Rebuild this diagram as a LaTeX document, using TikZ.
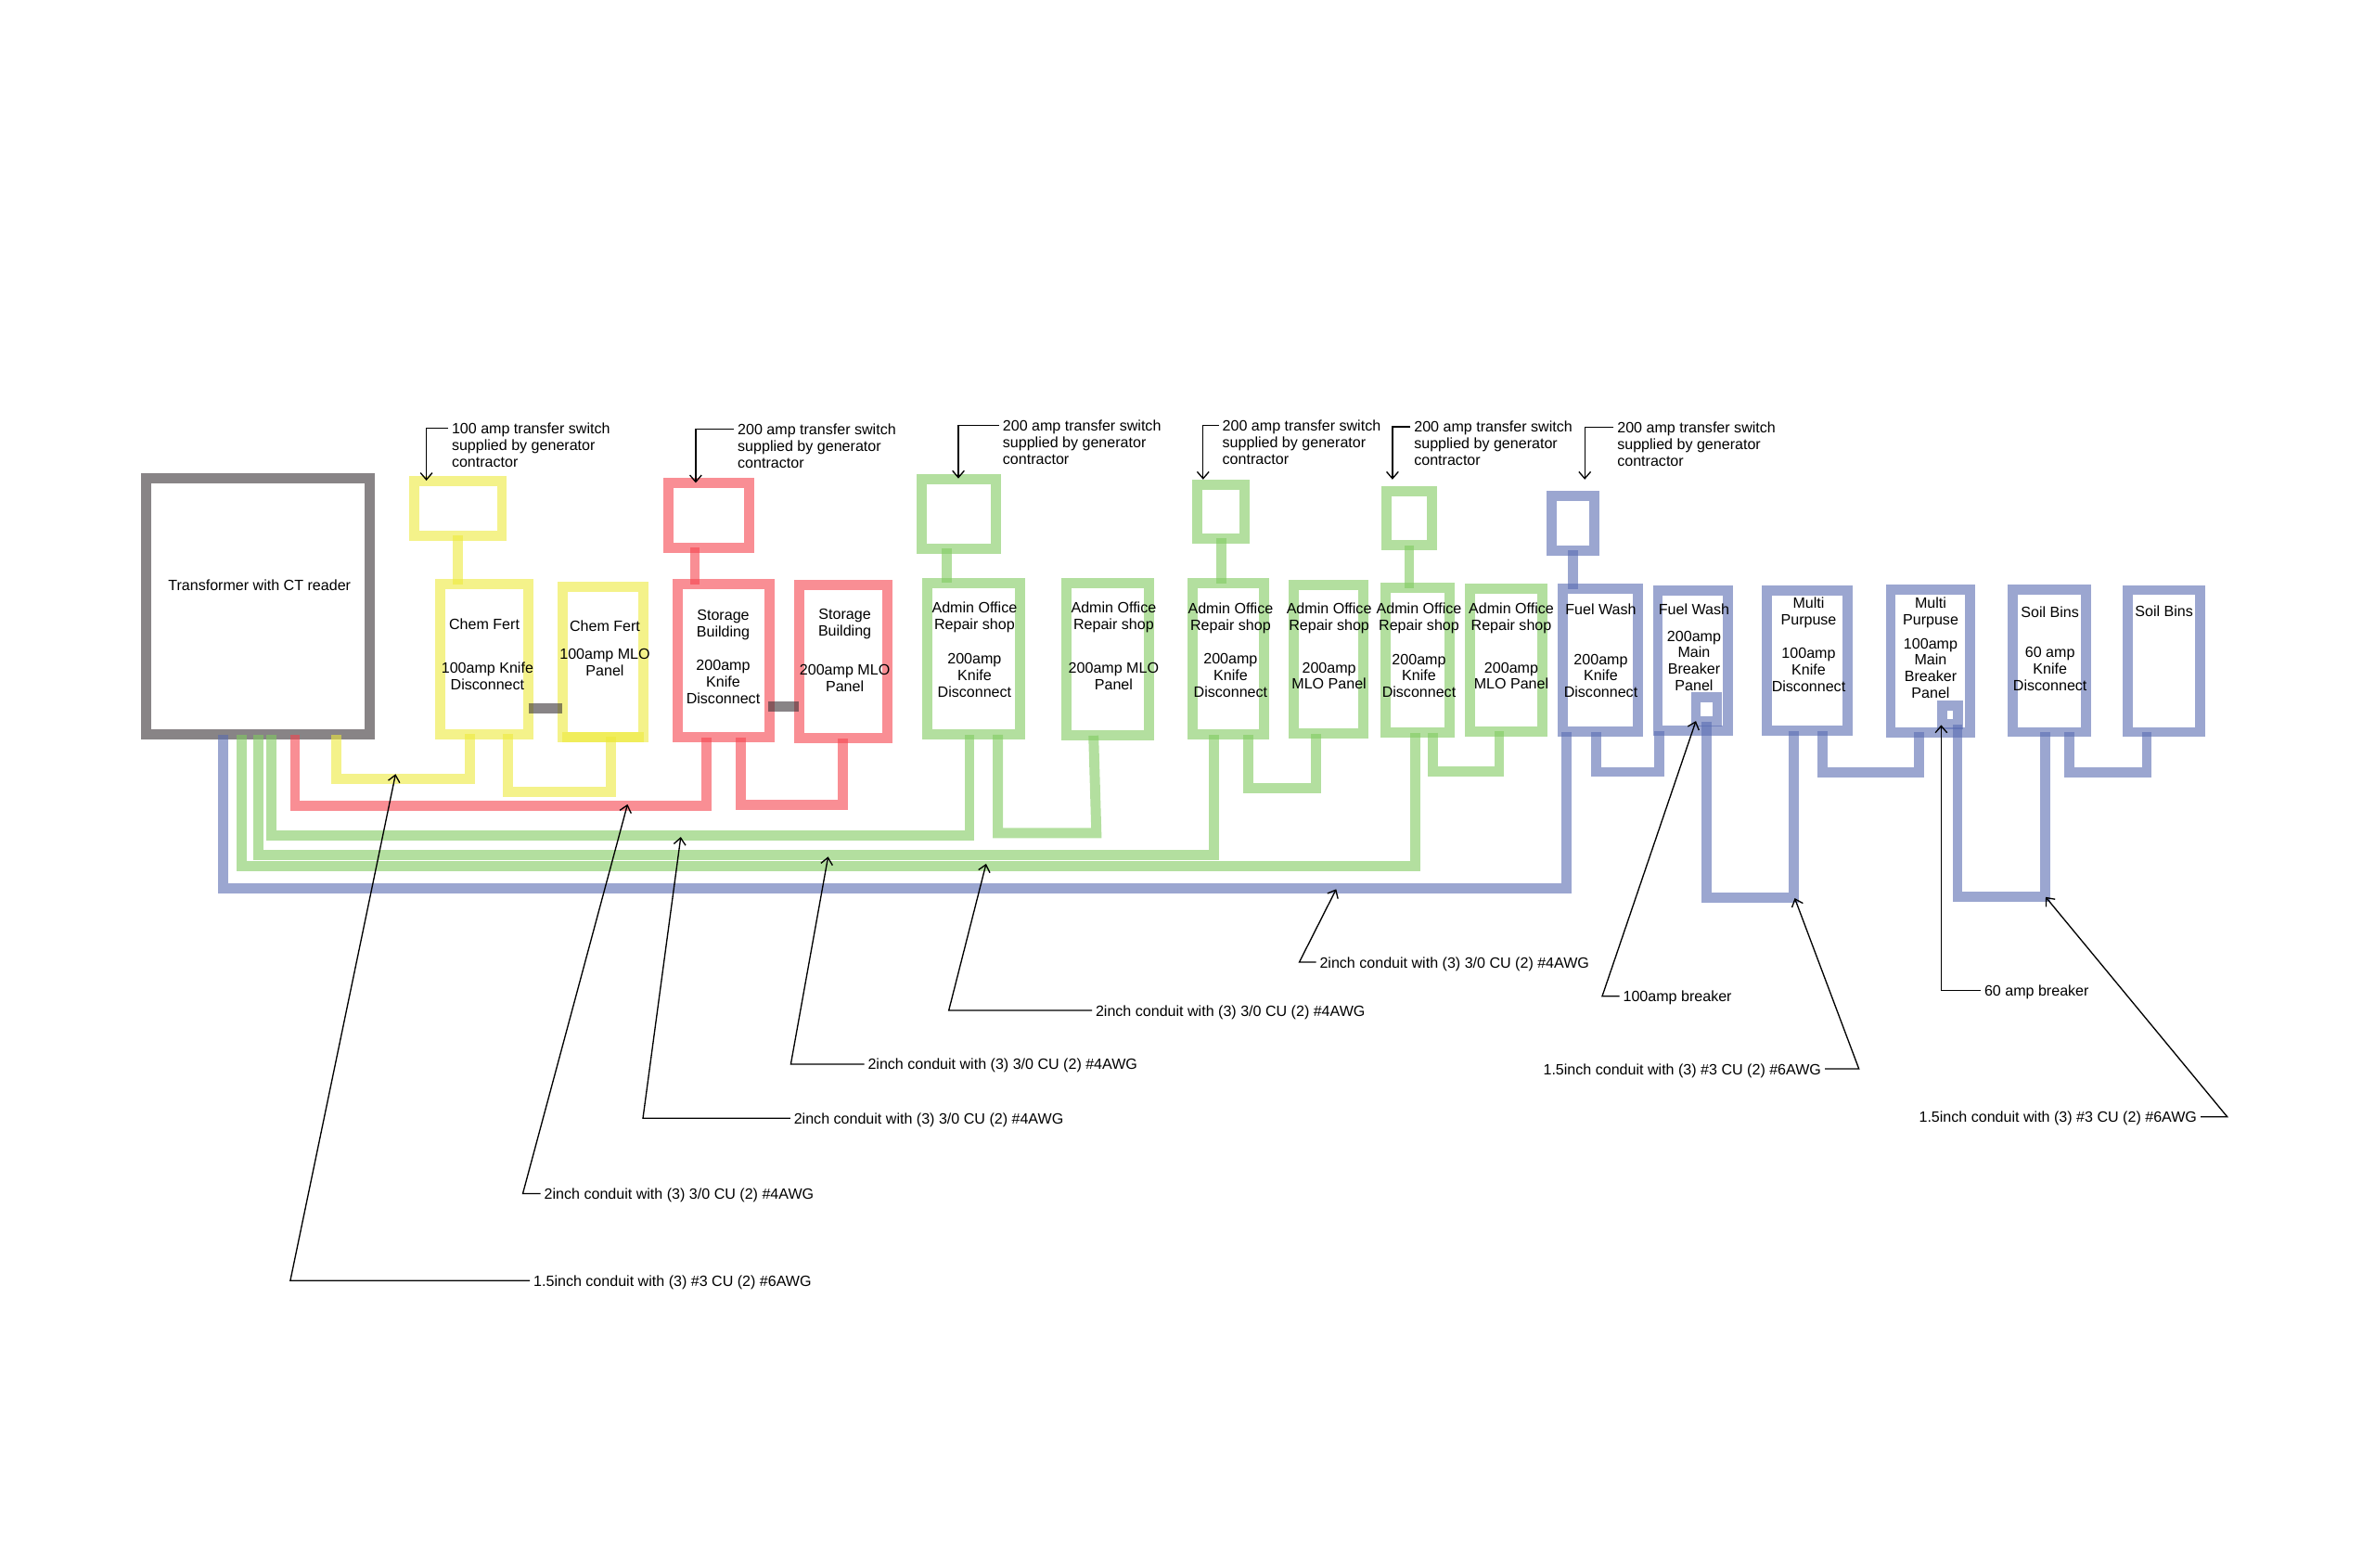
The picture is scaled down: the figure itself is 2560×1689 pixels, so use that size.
\documentclass[tikz,border=0pt]{standalone}
\usepackage{fontspec}
\setmainfont{Liberation Sans}
\usetikzlibrary{arrows.meta}

\definecolor{wireY}{RGB}{237,233,60}
\definecolor{wireR}{RGB}{245,67,77}
\definecolor{wireG}{RGB}{128,202,95}
\definecolor{wireB}{RGB}{88,107,177}
\definecolor{wireK}{RGB}{57,50,53}

\tikzset{
	panel/.style={line width=8.2pt,outer sep=0pt,inner sep=0pt,draw opacity=.6},
	boxdim/.style 2 args={minimum width=#1*0.75pt,minimum height=#2*0.75pt},
	pY/.style={panel,draw=wireY}, pR/.style={panel,draw=wireR},
	pG/.style={panel,draw=wireG}, pB/.style={panel,draw=wireB}, pK/.style={panel,draw=wireK},
	cond/.style={line width=8.2pt,draw opacity=.6},
	cY/.style={cond,draw=wireY}, cR/.style={cond,draw=wireR},
	cG/.style={cond,draw=wireG}, cB/.style={cond,draw=wireB}, cK/.style={cond,draw=wireK},
	lbl/.style={font=\fontsize{12.05}{13.4}\selectfont,align=center,inner sep=0pt},
	note/.style={font=\fontsize{12.05}{13.4}\selectfont,align=left,anchor=west,inner sep=0pt,outer sep=3pt},
	wirenote/.style={note,text height=9pt,text depth=0pt},
	leader/.style={line width=1pt,-{Straight Barb[length=5.5pt,width=9.5pt]}}
}

\begin{document}
\begin{tikzpicture}[x=0.75pt,y=0.75pt,yscale=-1,xscale=1]
	\useasboundingbox (0,0) rectangle (2560,1689);

	%Panels: transformer and transfer switches
	\node[pK,boxdim={240.8}{276}] (xfmr) at (278.2,653.75) {};
	\node[pY,boxdim={94.4}{58.9}] (tsChem) at (493.8,547.7) {};
	\node[pR,boxdim={87.3}{69.3}] (tsStore) at (763.7,555.4) {};
	\node[pG,boxdim={80.1}{75}] (tsAdminA) at (1033.1,553.55) {};
	\node[pG,boxdim={51.5}{57.9}] (tsAdminB) at (1316.2,551.4) {};
	\node[pG,boxdim={49}{58.3}] (tsAdminC) at (1519,558.4) {};
	\node[pB,boxdim={46}{58.6}] (tsFuel) at (1695.6,564) {};

	%Panels: disconnects and load centers
	\node[pY,boxdim={95}{161.5}] (kdChem) at (522.1,710.7) {};
	\node[pY,boxdim={87.3}{162.1}] (mloChem) at (649.9,713.2) {};
	\node[pR,boxdim={99}{165}] (kdStore) at (780.3,712.15) {};
	\node[pR,boxdim={94.9}{165.3}] (mloStore) at (908.8,713) {};
	\node[pG,boxdim={100}{163.5}] (kdAdminA) at (1049.2,710) {};
	\node[pG,boxdim={88.8}{164.6}] (mloAdminA) at (1194,710.55) {};
	\node[pG,boxdim={77.1}{162.8}] (kdAdminB) at (1324.4,710.35) {};
	\node[pG,boxdim={74.5}{160.3}] (mloAdminB) at (1431.8,710.5) {};
	\node[pG,boxdim={69.4}{156.1}] (kdAdminC) at (1528.2,711.6) {};
	\node[pG,boxdim={78.1}{153.6}] (mloAdminC) at (1623.4,711.45) {};
	\node[pB,boxdim={81.3}{154.3}] (kdFuel) at (1725,711.8) {};
	\node[pB,boxdim={75.6}{151.5}] (mbFuel) at (1824.8,712.1) {};
	\node[pB,boxdim={23}{26}] (brFuel) at (1839.5,764.5) {};
	\node[pB,boxdim={86.2}{151.8}] (kdMulti) at (1948,712) {};
	\node[pB,boxdim={85.2}{153.9}] (mbMulti) at (2080.6,712.3) {};
	\node[pB,boxdim={17.5}{20.4}] (brMulti) at (2101.8,770.5) {};
	\node[pB,boxdim={79}{153.6}] (kdSoil) at (2209.2,712.2) {};
	\node[pB,boxdim={78.5}{153}] (mloSoil) at (2332.4,712.5) {};

	%Straight Lines: switch to disconnect
	\draw[cY] (tsChem.south) -- (tsChem.south |- kdChem.north);
	\draw[cR] (749,0 |- tsStore.south) -- (749,0 |- kdStore.north);
	\draw[cG] (1020.6,0 |- tsAdminA.south) -- (1020.6,0 |- kdAdminA.north);
	\draw[cG] (tsAdminB.south) -- (tsAdminB.south |- kdAdminB.north);
	\draw[cG] (tsAdminC.south) -- (tsAdminC.south |- kdAdminC.north);
	\draw[cB] (tsFuel.south) -- (tsFuel.south |- kdFuel.north);

	%Straight Lines: gray nipples
	\draw[cK] (kdChem.east |- 0,763.6) -- (mloChem.west |- 0,763.6);
	\draw[cK] (828,761.8) -- (mloStore.west |- 0,761.8);
	\draw[cY] (606,0 |- mloChem.south) -- (694,0 |- mloChem.south);

	%Straight Lines: feeders from transformer
	\draw[cY] (362.2,0 |- xfmr.south) -- (362.2,839.8) -- (506.3,839.8) -- (506.3,0 |- kdChem.south);
	\draw[cR] (318,0 |- xfmr.south) -- (318,868.5) -- (761.9,868.5) -- (761.9,0 |- kdStore.south);
	\draw[cG] (292.3,0 |- xfmr.south) -- (292.3,900.5) -- (1045,900.5) -- (1045,0 |- kdAdminA.south);
	\draw[cG] (278.2,0 |- xfmr.south) -- (278.2,921.2) -- (1308.3,921.2) -- (1308.3,0 |- kdAdminB.south);
	\draw[cG] (260.8,0 |- xfmr.south) -- (260.8,933.5) -- (1525.2,933.5) -- (1525.2,0 |- kdAdminC.south);
	\draw[cB] (240.2,0 |- xfmr.south) -- (240.2,957.8) -- (1688.4,957.8) -- (1688.4,0 |- kdFuel.south);

	%Straight Lines: disconnect to panel
	\draw[cY] (547.6,0 |- kdChem.south) -- (547.6,853.2) -- (658.3,853.2) -- (658.3,0 |- mloChem.south);
	\draw[cR] (798.6,0 |- kdStore.south) -- (798.6,867.1) -- (908.3,867.1) -- (908.3,0 |- mloStore.south);
	\draw[cG] (1075.7,0 |- kdAdminA.south) -- (1075.7,897.9) -- (1181.8,897.9) -- (1178.7,0 |- mloAdminA.south);
	\draw[cG] (1345.6,0 |- kdAdminB.south) -- (1345.6,849.6) -- (1418.5,849.6) -- (1418.5,0 |- mloAdminB.south);
	\draw[cG] (1544.5,0 |- kdAdminC.south) -- (1544.5,831.4) -- (1616,831.4) -- (1616,0 |- mloAdminC.south);
	\draw[cB] (1720.2,0 |- kdFuel.south) -- (1720.2,832) -- (1788.5,832) -- (1788.5,0 |- mbFuel.south);
	\draw[cB] (1964.5,0 |- kdMulti.south) -- (1964.5,832.9) -- (2068.9,832.9) -- (2068.9,0 |- mbMulti.south);
	\draw[cB] (2230.4,0 |- kdSoil.south) -- (2230.4,832.7) -- (2314,832.7) -- (2314,0 |- mloSoil.south);

	%Straight Lines: breaker to next disconnect
	\draw[cB] (brFuel.south) -- (1839.5,967.5) -- (1933.4,967.5) -- (1933.4,0 |- kdMulti.south);
	\draw[cB] (2110,0 |- brMulti.south) -- (2110,966.4) -- (2204.6,966.4) -- (2204.6,0 |- kdSoil.south);

	% Text Node
	\node[lbl] (tXfmr) at (279.7,631) {Transformer with CT reader};
	\node[lbl] (tKdChem) at (525.4,704.8) {Chem Fert\hspace*{5pt}\\[22pt]100amp Knife\\Disconnect};
	\node[lbl] (tMloChem) at (652,698.6) {Chem Fert\\[9.6pt]100amp MLO\\Panel};
	\node[lbl] (tKdStore) at (779.5,707.9) {Storage\\Building\\[13.4pt]200amp\\Knife\\Disconnect};
	\node[lbl] (tMloStore) at (910.6,701.2) {Storage\\Building\\[18pt]200amp MLO\\Panel};
	\node[lbl] (tKdAdminA) at (1050.4,700) {Admin Office\\Repair shop\\[14.5pt]200amp\\Knife\\Disconnect};
	\node[lbl] (tMloAdminA) at (1200.4,696) {Admin Office\\Repair shop\\[21.7pt]200amp MLO\\Panel};
	\node[lbl] (tKdAdminB) at (1326.4,700.9) {Admin Office\\Repair shop\\[14pt]200amp\\Knife\\Disconnect};
	\node[lbl] (tMloAdminB) at (1432.6,696.4) {Admin Office\\Repair shop\\[21pt]200amp\\MLO Panel};
	\node[lbl] (tKdAdminC) at (1529.5,701) {Admin Office\\Repair shop\\[14pt]200amp\\Knife\\Disconnect};
	\node[lbl] (tMloAdminC) at (1629,696.4) {Admin Office\\Repair shop\\[21pt]200amp\\MLO Panel};
	\node[lbl] (tKdFuel) at (1725.5,701.6) {Fuel Wash\\[26.5pt]200amp\\Knife\\Disconnect};
	\node[lbl] (tMbFuel) at (1826,698) {Fuel Wash\\[7.8pt]200amp\\Main\\Breaker\\Panel};
	\node[lbl] (tKdMulti) at (1949.5,694.5) {Multi\\Purpuse\\[14pt]100amp\\Knife\\Disconnect};
	\node[lbl] (tMbMulti) at (2081,698.2) {Multi\\Purpuse\\[6pt]100amp\\Main\\Breaker\\Panel};
	\node[lbl] (tKdSoil) at (2209.7,699.3) {Soil Bins\\[19.3pt]60 amp\\Knife\\Disconnect};
	\node[lbl] (tMloSoil) at (2332.7,658.6) {Soil Bins};

	% Text Node: transfer switch notes
	\node[note] (nChem) at (483,480) {100 amp transfer switch\\supplied by generator\\contractor};
	\node[note] (nStore) at (791.2,480.7) {200 amp transfer switch\\supplied by generator\\contractor};
	\node[note] (nAdminA) at (1076.9,476.4) {200 amp transfer switch\\supplied by generator\\contractor};
	\node[note] (nAdminB) at (1313.7,476.4) {200 amp transfer switch\\supplied by generator\\contractor};
	\node[note] (nAdminC) at (1520.3,477.9) {200 amp transfer switch\\supplied by generator\\contractor};
	\node[note] (nFuel) at (1739.3,478.9) {200 amp transfer switch\\supplied by generator\\contractor};

	\coordinate (tipChem) at (459.6,518);
	\coordinate (tipStore) at (749.9,520.4);
	\coordinate (tipAdminA) at (1033,515.7);
	\coordinate (tipAdminB) at (1296.8,516.8);
	\coordinate (tipAdminC) at (1500.9,516.8);
	\coordinate (tipFuel) at (1708.2,516.8);

	\draw[leader] (nChem.west |- 0,461.8) -| (tipChem);
	\draw[leader] (nStore.west |- 0,462.5) -| (tipStore);
	\draw[leader] (nAdminA.west |- 0,458.2) -| (tipAdminA);
	\draw[leader] (nAdminB.west |- 0,458.2) -| (tipAdminB);
	\draw[leader] (nAdminC.west |- 0,460) -| (tipAdminC);
	\draw[leader] (nFuel.west |- 0,460.4) -| (tipFuel);

	% Text Node: conduit notes
	\node[wirenote] (wChem) at (571.2,1380.3) {1.5inch conduit with (3) \#3 CU (2) \#6AWG};
	\node[wirenote] (wStore) at (582.7,1286.5) {2inch conduit with (3) 3/0 CU (2) \#4AWG};
	\node[wirenote] (wAdminA) at (851.8,1205.3) {2inch conduit with (3) 3/0 CU (2) \#4AWG};
	\node[wirenote] (wAdminB) at (931.5,1146.9) {2inch conduit with (3) 3/0 CU (2) \#4AWG};
	\node[wirenote] (wAdminC) at (1177,1089) {2inch conduit with (3) 3/0 CU (2) \#4AWG};
	\node[wirenote] (wFuel) at (1418.5,1037) {2inch conduit with (3) 3/0 CU (2) \#4AWG};
	\node[wirenote] (nBrFuel) at (1745.6,1073.7) {100amp breaker};
	\node[wirenote] (nBrMulti) at (2135,1067.3) {60 amp breaker};
	\node[wirenote,anchor=east] (wMulti) at (1967,1152) {1.5inch conduit with (3) \#3 CU (2) \#6AWG};
	\node[wirenote,anchor=east] (wSoil) at (2372,1203.7) {1.5inch conduit with (3) \#3 CU (2) \#6AWG};

	\coordinate (hitChem) at (426.4,834.3);
	\coordinate (hitStore) at (676.4,866.9);
	\coordinate (hitAdminA) at (733.8,902);
	\coordinate (hitAdminB) at (892.6,923.3);
	\coordinate (hitAdminC) at (1062.9,931);
	\coordinate (hitFuel) at (1440.3,958.3);
	\coordinate (hitBrFuel) at (1828,777.1);
	\coordinate (hitBrMulti) at (2092.4,781.4);
	\coordinate (hitMulti) at (1934.5,968);
	\coordinate (hitSoil) at (2205,966.8);

	\draw[leader] (wChem.west) -- (312.9,0 |- wChem.west) -- (hitChem);
	\draw[leader] (wStore.west) -- (563.5,0 |- wStore.west) -- (hitStore);
	\draw[leader] (wAdminA.west) -- (693,0 |- wAdminA.west) -- (hitAdminA);
	\draw[leader] (wAdminB.west) -- (852.4,0 |- wAdminB.west) -- (hitAdminB);
	\draw[leader] (wAdminC.west) -- (1022.7,0 |- wAdminC.west) -- (hitAdminC);
	\draw[leader] (wFuel.west) -- (1400.5,0 |- wFuel.west) -- (hitFuel);
	\draw[leader] (nBrFuel.west) -- (1727,0 |- nBrFuel.west) -- (hitBrFuel);
	\draw[leader] (nBrMulti.west) -- (2092.4,0 |- nBrMulti.west) -- (hitBrMulti);
	\draw[leader] (wMulti.east) -- (2003.7,0 |- wMulti.east) -- (hitMulti);
	\draw[leader] (wSoil.east) -- (2400.7,0 |- wSoil.east) -- (hitSoil);
\end{tikzpicture}
\end{document}
